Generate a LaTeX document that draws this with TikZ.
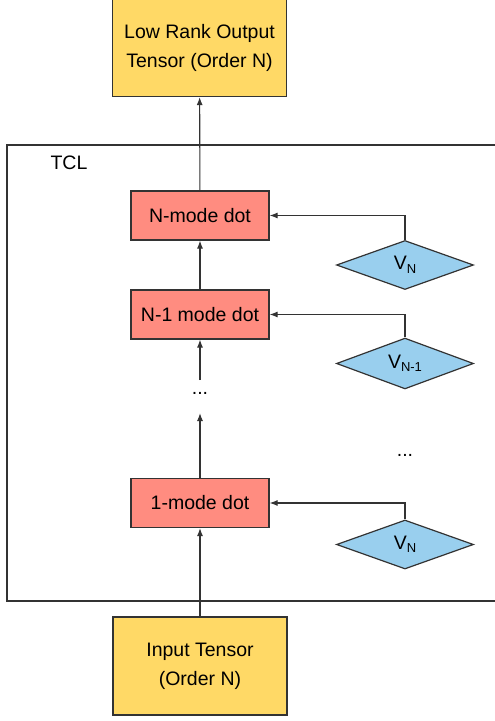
\documentclass[tikz,border=0pt]{standalone}
\usepackage{fontspec}
\setmainfont{Liberation Sans}
\usetikzlibrary{shapes.geometric, arrows.meta}

\definecolor{tensorfill}{RGB}{255,217,102}
\definecolor{dotfill}{RGB}{255,140,128}
\definecolor{factorfill}{RGB}{153,207,238}
\definecolor{edgegray}{RGB}{51,51,51}

\newcommand{\factorsub}[1]{V\raisebox{-3.5pt}{\fontsize{13}{13}\selectfont #1}}

\begin{document}
\begin{tikzpicture}[
  x = 1pt, y = -1pt,
  font = \fontsize{19.5}{29}\selectfont,
  tensor/.style = {
    shape = rectangle,
    draw = edgegray,
    fill = tensorfill,
    line width = 1.2pt,
    minimum width = 174pt,
    minimum height = 98pt,
    align = center,
    inner sep = 0pt,
  },
  modedot/.style = {
    shape = rectangle,
    draw = edgegray,
    fill = dotfill,
    line width = 1.2pt,
    minimum width = 138pt,
    minimum height = 49pt,
    inner sep = 0pt,
  },
  factor/.style = {
    shape = diamond,
    draw = edgegray,
    fill = factorfill,
    line width = 1.2pt,
    minimum width = 137pt,
    minimum height = 49pt,
    inner sep = 0pt,
  }
]
  \useasboundingbox (0, 0) rectangle (495, 721);

  \draw[line width = 1.2pt, edgegray] (7, 145) rectangle (505, 601);
  \node (tcl) at (69, 163) {TCL};

  \node[tensor] (out) at (199.5, 47.5) {Low Rank Output\\Tensor (Order N)};
  \node[tensor] (in) at (200, 666) {Input Tensor\\(Order N)};

  \node[modedot] (dotN) at (200, 215.5) {N-mode dot};
  \node[modedot] (dotNm1) at (200, 314.5) {N-1 mode dot};
  \node[modedot] (dot1) at (200, 503) {1-mode dot};

  \node[factor] (vN) at (405, 265) {\factorsub{N}};
  \node[factor] (vNm1) at (405, 363.5) {\factorsub{N-1}};
  \node[factor] (v1) at (405, 544.5) {\factorsub{N}};

  \node (gapL) at (200, 393) {...};
  \node (gapR) at (405, 455) {...};
  \coordinate (gapTop) at (200, 380);
  \coordinate (gapBot) at (200, 413);

  \begin{scope}[
    every path/.style = {-{Latex[length = 8pt, width = 6pt]}, line width = 1.1pt, edgegray}
  ]
    \draw (in) -- (dot1);
    \draw (dot1) -- (gapBot);
    \draw (gapTop) -- (dotNm1);
    \draw (dotNm1) -- (dotN);
    \draw (dotN) -- (out);

    \draw (vN.north) |- (dotN.east);
    \draw (vNm1.north) |- (dotNm1.east);
    \draw (v1.north) |- (dot1.east);
  \end{scope}
\end{tikzpicture}
\end{document}
